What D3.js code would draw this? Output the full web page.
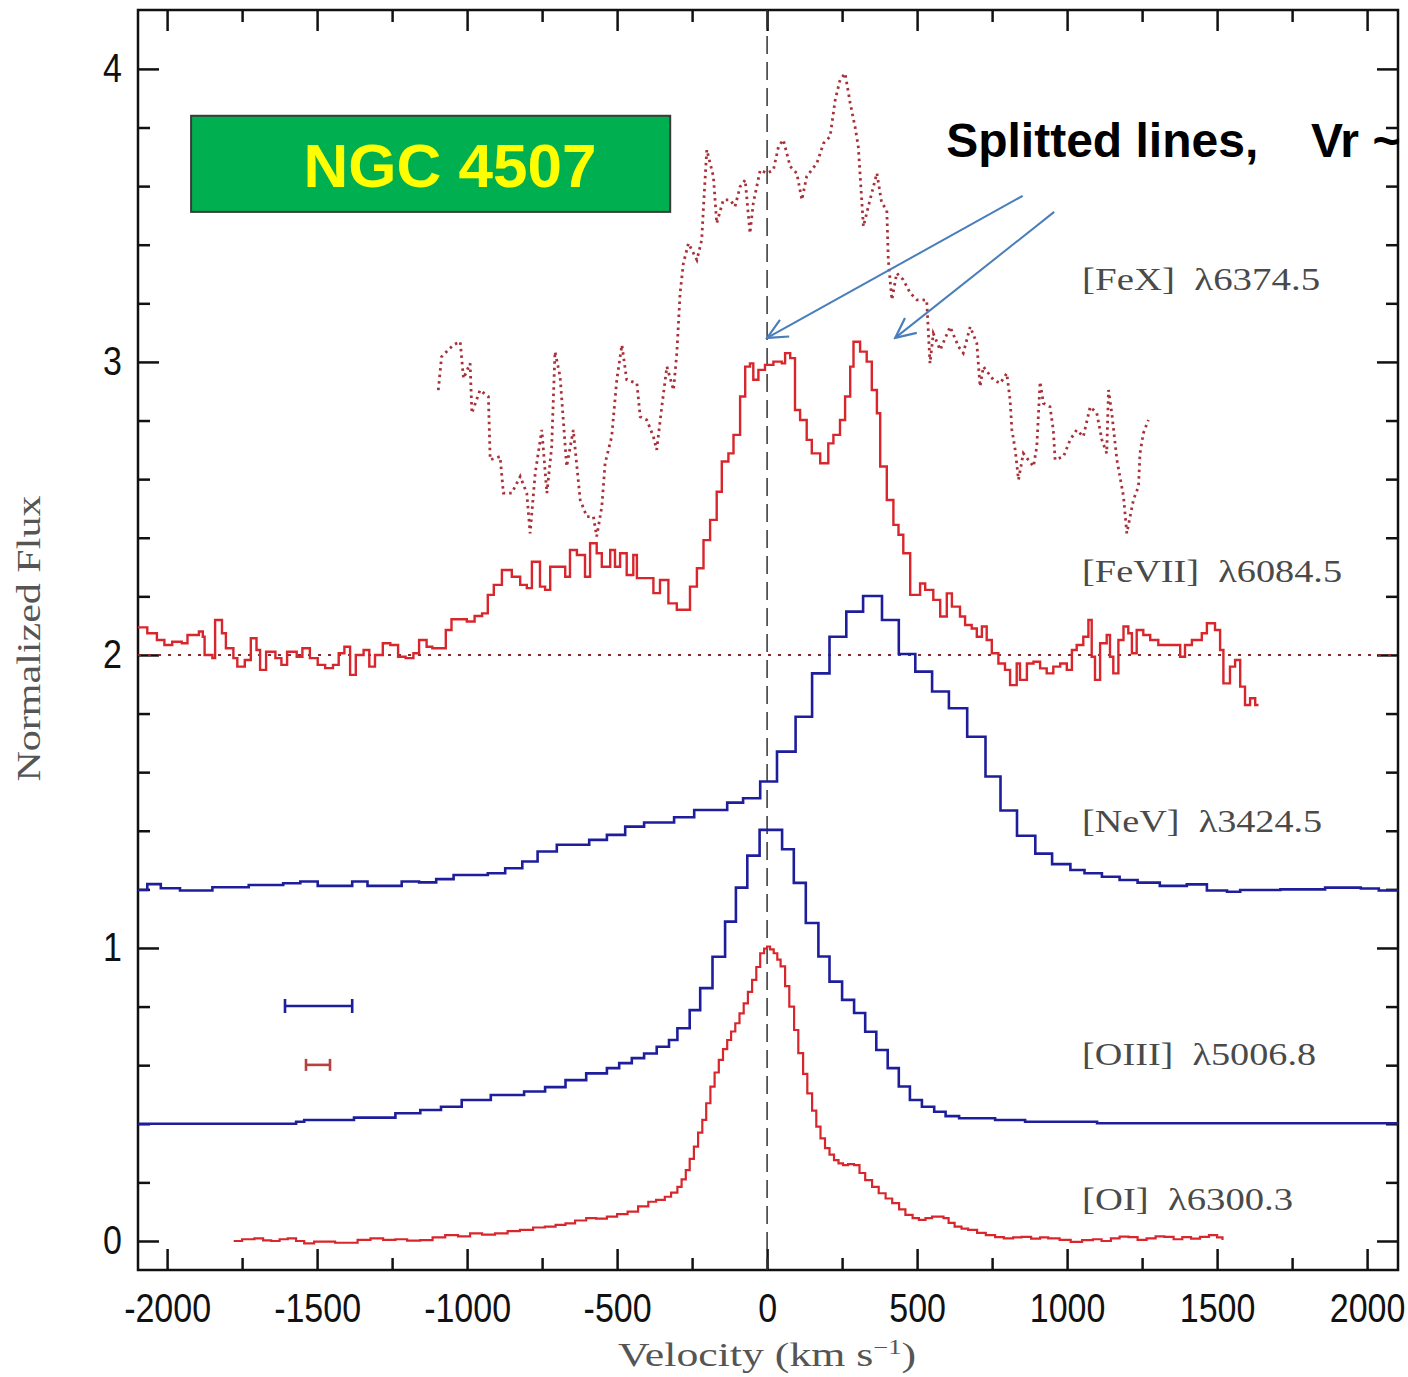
<!DOCTYPE html>
<html>
<head>
<meta charset="utf-8">
<script src="https://cdn.jsdelivr.net/npm/d3@7"></script>
<style>
    body { margin: 0; background: #fff; }
    svg { display: block; }
</style>
</head>
<body>
<div id="chart"></div>
<script>
//Tick values
var xMajorTicks = [-2000, -1500, -1000, -500, 0, 500, 1000, 1500, 2000];
var xMinorTicks = [-1750, -1250, -750, -250, 250, 750, 1250, 1750];
var yMajorTicks = [0, 1, 2, 3, 4];
var yMinorTicks = [0.2, 0.4, 0.6, 0.8, 1.2, 1.4, 1.6, 1.8, 2.2, 2.4, 2.6, 2.8, 3.2, 3.4, 3.6, 3.8];

//Line names
var lineNames = ["[FeX]  \u03bb6374.5", "[FeVII]  \u03bb6084.5", "[NeV]  \u03bb3424.5", "[OIII]  \u03bb5006.8", "[OI]  \u03bb6300.3"];

//[OI] 6300 - [velocity, flux], fine red histogram
var oiSpectrum = [
    [-1778, 0.0], [-1750, 0.006], [-1709, 0.009], [-1680, 0.002], [-1653, 0.0], [-1625, 0.006], [-1598, 0.009],
    [-1570, 0.0], [-1543, -0.008], [-1510, -0.002], [-1474, -0.002], [-1440, -0.006], [-1405, -0.006],
    [-1365, 0.004], [-1322, 0.009], [-1280, 0.004], [-1239, 0.006], [-1200, 0.001], [-1156, 0.003],
    [-1115, 0.012], [-1073, 0.02], [-1030, 0.016], [-990, 0.026], [-950, 0.022], [-907, 0.026], [-865, 0.034],
    [-824, 0.038], [-780, 0.046], [-741, 0.049], [-705, 0.055], [-672, 0.06], [-640, 0.07], [-603, 0.078],
    [-570, 0.076], [-534, 0.083], [-500, 0.092], [-465, 0.1], [-430, 0.118], [-396, 0.134], [-370, 0.14],
    [-341, 0.151], [-320, 0.165], [-299, 0.185], [-285, 0.21], [-271, 0.242], [-258, 0.28], [-244, 0.322],
    [-230, 0.37], [-216, 0.413], [-203, 0.47], [-189, 0.527], [-175, 0.575], [-161, 0.618], [-147, 0.655],
    [-133, 0.686], [-120, 0.715], [-106, 0.743], [-92, 0.777], [-78, 0.811], [-64, 0.85], [-50, 0.891],
    [-36, 0.935], [-23, 0.982], [-10, 0.998], [0, 1.005], [10, 0.995], [22, 0.982], [34, 0.96], [45, 0.937],
    [60, 0.87], [74, 0.8], [90, 0.72], [104, 0.641], [120, 0.57], [134, 0.504], [150, 0.445], [164, 0.39],
    [178, 0.35], [193, 0.317], [208, 0.295], [223, 0.276], [238, 0.265], [253, 0.259], [270, 0.262],
    [290, 0.259], [308, 0.232], [327, 0.208], [350, 0.185], [372, 0.163], [395, 0.145], [417, 0.129],
    [440, 0.108], [461, 0.089], [485, 0.078], [506, 0.072], [528, 0.078], [550, 0.083], [570, 0.083],
    [588, 0.078], [605, 0.062], [625, 0.049], [648, 0.042], [670, 0.038], [700, 0.028], [729, 0.02],
    [760, 0.013], [789, 0.009], [820, 0.012], [848, 0.014], [880, 0.008], [910, 0.012], [937, 0.009],
    [975, 0.004], [1012, -0.003], [1050, 0.003], [1086, 0.006], [1115, 0.0], [1146, 0.009], [1175, 0.015],
    [1205, 0.013], [1235, 0.004], [1265, 0.009], [1295, 0.016], [1324, 0.014], [1355, 0.006], [1384, 0.013],
    [1413, 0.008], [1443, 0.014], [1473, 0.02], [1500, 0.012], [1518, 0.003]
];

//[OIII] 5007 - bin start velocity, flux
var oiiiSpectrum = [
    [-2100, 0.400], [-1570, 0.407], [-1543, 0.413], [-1377, 0.421], [-1239, 0.436], [-1156, 0.447],
    [-1087, 0.458], [-1018, 0.481], [-921, 0.498], [-810, 0.510], [-740, 0.525], [-672, 0.549],
    [-603, 0.572], [-534, 0.590], [-493, 0.607], [-451, 0.624], [-410, 0.640], [-368, 0.663],
    [-327, 0.686], [-299, 0.726], [-258, 0.788], [-223, 0.863], [-182, 0.970], [-140, 1.090],
    [-104, 1.206], [-66, 1.315], [-25, 1.403], [50, 1.337], [89, 1.222], [129, 1.085], [171, 0.971],
    [208, 0.885], [250, 0.823], [290, 0.778], [327, 0.714], [364, 0.652], [402, 0.590], [439, 0.527],
    [476, 0.481], [516, 0.458], [557, 0.441], [595, 0.426], [640, 0.419], [760, 0.413], [860, 0.407],
    [1100, 0.402], [2110, 0.402]
];

//[NeV] 3426 - bin start velocity, flux
var nevSpectrum = [
    [-2100, 1.198], [-2066, 1.218], [-2021, 1.204], [-1957, 1.196], [-1849, 1.207], [-1728, 1.215],
    [-1613, 1.221], [-1556, 1.227], [-1498, 1.212], [-1383, 1.227], [-1332, 1.212], [-1218, 1.227],
    [-1160, 1.224], [-1103, 1.235], [-1045, 1.249], [-931, 1.255], [-873, 1.272], [-816, 1.295],
    [-765, 1.329], [-701, 1.352], [-593, 1.369], [-534, 1.386], [-473, 1.414], [-410, 1.428],
    [-310, 1.446], [-243, 1.471], [-133, 1.496], [-80, 1.511], [-23, 1.568], [33, 1.670], [95, 1.789],
    [150, 1.937], [208, 2.062], [264, 2.148], [320, 2.201], [383, 2.119], [439, 2.003], [494, 1.943],
    [550, 1.875], [606, 1.818], [667, 1.721], [728, 1.585], [778, 1.469], [833, 1.383], [894, 1.322],
    [950, 1.286], [1011, 1.266], [1058, 1.255], [1116, 1.243], [1175, 1.232], [1235, 1.223],
    [1309, 1.212], [1399, 1.217], [1466, 1.196], [1533, 1.192], [1577, 1.198], [1711, 1.200],
    [1860, 1.206], [1979, 1.203], [2039, 1.196], [2110, 1.196]
];

//[FeVII] 6087 - bin start velocity, flux
var feviiSpectrum = [
    [-2098, 2.094], [-2066, 2.074], [-2034, 2.051], [-2009, 2.034], [-1983, 2.045], [-1951, 2.040],
    [-1932, 2.068], [-1894, 2.080], [-1881, 2.062], [-1875, 2.000], [-1849, 1.989], [-1840, 2.119],
    [-1817, 2.074], [-1804, 2.023], [-1779, 1.989], [-1766, 1.960], [-1741, 1.983], [-1721, 2.057],
    [-1702, 2.017], [-1690, 1.949], [-1670, 2.011], [-1639, 1.989], [-1619, 1.966], [-1600, 2.011],
    [-1568, 1.994], [-1549, 2.023], [-1524, 1.989], [-1498, 1.966], [-1473, 1.955], [-1447, 1.966],
    [-1428, 2.006], [-1409, 2.028], [-1390, 1.932], [-1371, 2.000], [-1345, 2.017], [-1326, 1.960],
    [-1307, 2.000], [-1281, 2.040], [-1256, 2.034], [-1230, 1.994], [-1205, 1.989], [-1179, 2.006],
    [-1160, 2.051], [-1135, 2.028], [-1116, 2.023], [-1071, 2.085], [-1052, 2.122], [-1001, 2.114],
    [-975, 2.133], [-950, 2.142], [-931, 2.205], [-911, 2.239], [-884, 2.290], [-851, 2.267],
    [-823, 2.239], [-801, 2.228], [-784, 2.318], [-757, 2.233], [-740, 2.222], [-723, 2.301],
    [-673, 2.267], [-657, 2.358], [-634, 2.341], [-607, 2.267], [-590, 2.381], [-568, 2.347],
    [-551, 2.301], [-523, 2.358], [-507, 2.301], [-490, 2.347], [-468, 2.273], [-446, 2.341],
    [-434, 2.262], [-379, 2.211], [-357, 2.256], [-329, 2.176], [-301, 2.154], [-284, 2.154],
    [-257, 2.233], [-234, 2.296], [-212, 2.392], [-190, 2.461], [-168, 2.557], [-151, 2.660],
    [-129, 2.688], [-112, 2.751], [-90, 2.882], [-73, 2.984], [-57, 2.995], [-46, 2.939], [-29, 2.973],
    [-7, 2.990], [21, 3.001], [49, 2.995], [60, 3.030], [77, 3.013], [93, 2.836], [110, 2.802],
    [132, 2.734], [149, 2.688], [177, 2.654], [204, 2.722], [221, 2.751], [243, 2.802], [260, 2.882],
    [277, 2.984], [288, 3.069], [310, 3.035], [332, 3.001], [349, 2.904], [366, 2.825], [377, 2.643],
    [399, 2.529], [421, 2.444], [438, 2.410], [454, 2.347], [477, 2.205], [510, 2.244], [527, 2.222],
    [554, 2.188], [577, 2.131], [599, 2.210], [616, 2.165], [643, 2.131], [660, 2.102], [682, 2.090],
    [699, 2.062], [716, 2.097], [732, 2.051], [749, 2.006], [771, 1.971], [793, 1.949], [810, 1.897],
    [832, 1.971], [843, 1.915], [866, 1.971], [888, 1.977], [910, 1.954], [932, 1.937], [954, 1.960],
    [977, 1.971], [999, 1.949], [1016, 2.017], [1032, 2.034], [1054, 2.062], [1071, 2.119], [1082, 1.994],
    [1093, 1.915], [1110, 2.040], [1132, 2.068], [1143, 1.994], [1154, 1.937], [1171, 2.051], [1188, 2.097],
    [1204, 2.074], [1216, 2.006], [1232, 2.085], [1254, 2.068], [1277, 2.051], [1304, 2.034], [1377, 1.994],
    [1393, 2.034], [1416, 2.051], [1449, 2.074], [1466, 2.108], [1493, 2.085], [1510, 2.017], [1521, 1.903],
    [1543, 1.960], [1560, 1.983], [1577, 1.892], [1593, 1.829], [1610, 1.852], [1627, 1.829], [1638, 1.829]
];

//[FeX] 6374 - velocity, flux (dotted)
var fexSpectrum = [
    [-1096, 2.904], [-1085, 3.018], [-1046, 3.058], [-1023, 3.069], [-1012, 2.944], [-990, 2.995],
    [-984, 2.825], [-957, 2.904], [-929, 2.881], [-923, 2.666], [-890, 2.677], [-879, 2.552], [-851, 2.552],
    [-823, 2.609], [-801, 2.552], [-790, 2.415], [-773, 2.620], [-751, 2.768], [-734, 2.552], [-718, 2.711],
    [-707, 3.035], [-690, 2.950], [-668, 2.643], [-646, 2.768], [-634, 2.643], [-623, 2.529], [-601, 2.472],
    [-579, 2.472], [-568, 2.404], [-551, 2.506], [-540, 2.654], [-518, 2.745], [-501, 2.939], [-484, 3.058],
    [-468, 2.939], [-434, 2.927], [-423, 2.813], [-401, 2.802], [-379, 2.745], [-368, 2.700], [-351, 2.847],
    [-334, 2.984], [-312, 2.904], [-301, 3.029], [-290, 3.235], [-279, 3.337], [-262, 3.405], [-234, 3.348],
    [-218, 3.416], [-212, 3.530], [-201, 3.724], [-179, 3.633], [-168, 3.473], [-146, 3.553], [-123, 3.553],
    [-107, 3.530], [-90, 3.598], [-73, 3.621], [-57, 3.439], [-46, 3.542], [-23, 3.655], [-1, 3.644],
    [21, 3.655], [38, 3.735], [54, 3.758], [77, 3.667], [99, 3.644], [116, 3.553], [132, 3.633], [166, 3.678],
    [188, 3.746], [210, 3.769], [227, 3.894], [243, 3.962], [260, 3.985], [277, 3.883], [293, 3.803],
    [304, 3.735], [321, 3.462], [343, 3.553], [366, 3.644], [382, 3.542], [399, 3.519], [404, 3.348],
    [416, 3.212], [432, 3.303], [454, 3.280], [477, 3.235], [499, 3.212], [532, 3.211], [543, 2.995],
    [554, 3.097], [577, 3.041], [610, 3.120], [638, 3.052], [654, 3.030], [677, 3.120], [699, 3.064],
    [710, 2.916], [721, 2.984], [754, 2.939], [777, 2.927], [799, 2.961], [810, 2.870], [816, 2.768],
    [827, 2.700], [838, 2.598], [854, 2.688], [888, 2.643], [899, 2.711], [910, 2.932], [921, 2.859],
    [943, 2.847], [954, 2.768], [960, 2.666], [988, 2.677], [1010, 2.734], [1032, 2.768], [1054, 2.745],
    [1077, 2.847], [1099, 2.825], [1116, 2.734], [1132, 2.688], [1138, 2.904], [1149, 2.825], [1166, 2.666],
    [1188, 2.541], [1199, 2.415], [1221, 2.529], [1238, 2.575], [1243, 2.688], [1254, 2.756], [1271, 2.802]
];

//Instrumental resolution bars - [start velocity, end velocity, flux]
var resolutionBlue = [-1607, -1383, 0.802];
var resolutionRed = [-1537, -1457, 0.601];

//Continuum level of the [FeVII] line
var feviiContinuum = 2.0;

//Layout
var margin = {top: 10, right: 10, bottom: 107, left: 138},
    width = 1408 - margin.left - margin.right,
    height = 1377 - margin.top - margin.bottom;

var x = d3.scaleLinear().domain([-2097, 2103]).range([0, width]);
var y = d3.scaleLinear().domain([-0.099, 4.201]).range([height, 0]);

var red = "#d8262c",
    blue = "#1e1e9c",
    grey = "#4a4a4a",
    arrowBlue = "#4a7ebb";

var svg = d3.select("#chart").append("svg")
    .attr("width", width + margin.left + margin.right)
    .attr("height", height + margin.top + margin.bottom);

var g = svg.append("g")
    .attr("transform", "translate(" + margin.left + "," + margin.top + ")");

//Axes - ticks pointing inwards on all four sides
function styleAxis(sel) {
    sel.select(".domain").remove();
    sel.selectAll(".tick line").attr("stroke", "#111").attr("stroke-width", 2.5);
}

//The original uses a condensed face, squeeze the labels horizontally
var squeeze = 0.85;
var tickFont = "'Liberation Sans', Arial, sans-serif";

g.append("g")
    .attr("transform", "translate(0," + height + ")")
    .call(d3.axisBottom(x).tickValues(xMajorTicks).tickSizeInner(-21).tickPadding(24)
        .tickFormat(function(d) { return String(d); }))
    .call(styleAxis)
    .selectAll("text")
    .attr("fill", "#111")
    .attr("transform", "scale(" + squeeze + ",1)")
    .style("font-family", tickFont)
    .style("font-size", "40px");

g.append("g")
    .attr("transform", "translate(0," + height + ")")
    .call(d3.axisBottom(x).tickValues(xMinorTicks).tickSizeInner(-12).tickFormat(""))
    .call(styleAxis);

g.append("g")
    .call(d3.axisTop(x).tickValues(xMajorTicks).tickSizeInner(-21).tickFormat(""))
    .call(styleAxis);

g.append("g")
    .call(d3.axisTop(x).tickValues(xMinorTicks).tickSizeInner(-12).tickFormat(""))
    .call(styleAxis);

g.append("g")
    .call(d3.axisLeft(y).tickValues(yMajorTicks).tickSizeInner(-21).tickPadding(16)
        .tickFormat(function(d) { return String(d); }))
    .call(styleAxis)
    .selectAll("text")
    .attr("fill", "#111")
    .attr("x", -16 / squeeze)
    .attr("transform", "scale(" + squeeze + ",1)")
    .style("font-family", tickFont)
    .style("font-size", "40px");

g.append("g")
    .call(d3.axisLeft(y).tickValues(yMinorTicks).tickSizeInner(-12).tickFormat(""))
    .call(styleAxis);

g.append("g")
    .attr("transform", "translate(" + width + ",0)")
    .call(d3.axisRight(y).tickValues(yMajorTicks).tickSizeInner(-21).tickFormat(""))
    .call(styleAxis);

g.append("g")
    .attr("transform", "translate(" + width + ",0)")
    .call(d3.axisRight(y).tickValues(yMinorTicks).tickSizeInner(-12).tickFormat(""))
    .call(styleAxis);

//Frame
g.append("rect")
    .attr("width", width)
    .attr("height", height)
    .attr("fill", "none")
    .attr("stroke", "#111")
    .attr("stroke-width", 2.5);

//Zero velocity reference
g.append("line")
    .attr("x1", x(0)).attr("x2", x(0))
    .attr("y1", 0).attr("y2", height)
    .attr("stroke", "#333")
    .attr("stroke-width", 1.5)
    .attr("stroke-dasharray", "18,8");

//Continuum of [FeVII]
g.append("line")
    .attr("x1", 0).attr("x2", width)
    .attr("y1", y(feviiContinuum)).attr("y2", y(feviiContinuum))
    .attr("stroke", "#8a2a2a")
    .attr("stroke-width", 2)
    .attr("stroke-dasharray", "3,7");

//Spectra
var stepLine = d3.line()
    .x(function(d) { return x(d[0]); })
    .y(function(d) { return y(d[1]); })
    .curve(d3.curveStepAfter);

var plainLine = d3.line()
    .x(function(d) { return x(d[0]); })
    .y(function(d) { return y(d[1]); });

g.append("clipPath").attr("id", "plot-clip")
    .append("rect").attr("width", width).attr("height", height);

var spectra = g.append("g").attr("clip-path", "url(#plot-clip)");

spectra.append("path")
    .datum(fexSpectrum)
    .attr("d", plainLine)
    .attr("fill", "none")
    .attr("stroke", "#a8323a")
    .attr("stroke-width", 2.8)
    .attr("stroke-dasharray", "2.5,4");

spectra.append("path")
    .datum(feviiSpectrum)
    .attr("d", stepLine)
    .attr("fill", "none")
    .attr("stroke", red)
    .attr("stroke-width", 2.4);

spectra.append("path")
    .datum(nevSpectrum)
    .attr("d", stepLine)
    .attr("fill", "none")
    .attr("stroke", blue)
    .attr("stroke-width", 2.6);

spectra.append("path")
    .datum(oiiiSpectrum)
    .attr("d", stepLine)
    .attr("fill", "none")
    .attr("stroke", blue)
    .attr("stroke-width", 2.6);

spectra.append("path")
    .datum(oiSpectrum)
    .attr("d", stepLine)
    .attr("fill", "none")
    .attr("stroke", red)
    .attr("stroke-width", 2.2);

//Resolution bars
function drawResolution(bar, colour, cap) {
    var rg = g.append("g")
        .attr("stroke", colour)
        .attr("stroke-width", 2.6);
    rg.append("line")
        .attr("x1", x(bar[0])).attr("x2", x(bar[1]))
        .attr("y1", y(bar[2])).attr("y2", y(bar[2]));
    [bar[0], bar[1]].forEach(function(v) {
        rg.append("line")
            .attr("x1", x(v)).attr("x2", x(v))
            .attr("y1", y(bar[2]) - cap).attr("y2", y(bar[2]) + cap);
    });
}
drawResolution(resolutionBlue, blue, 7);
drawResolution(resolutionRed, "#b8403f", 6);

//Line labels - anchor velocity / flux of the left baseline and printed width
var labelAnchors = [
    {v: 1050, f: 3.246, w: 238},
    {v: 1050, f: 2.249, w: 260},
    {v: 1050, f: 1.396, w: 240},
    {v: 1050, f: 0.601, w: 234},
    {v: 1050, f: 0.106, w: 211}
];

g.selectAll(".line-label")
    .data(lineNames)
    .enter().append("text")
    .attr("class", "line-label")
    .attr("x", function(d, i) { return x(labelAnchors[i].v); })
    .attr("y", function(d, i) { return y(labelAnchors[i].f); })
    .attr("textLength", function(d, i) { return labelAnchors[i].w; })
    .attr("lengthAdjust", "spacingAndGlyphs")
    .style("font-family", "'Liberation Serif', 'DejaVu Serif', serif")
    .style("font-size", "31px")
    .style("fill", grey)
    .style("white-space", "pre")
    .text(function(d) { return d; });

//Axis titles
svg.append("text")
    .attr("transform", "translate(40," + (margin.top + y(2.056)) + ") rotate(-90)")
    .attr("text-anchor", "middle")
    .attr("textLength", 286)
    .attr("lengthAdjust", "spacingAndGlyphs")
    .style("font-family", "'Liberation Serif', 'DejaVu Serif', serif")
    .style("font-size", "33px")
    .style("fill", "#555")
    .text("Normalized Flux");

var xTitle = svg.append("text")
    .attr("x", margin.left + x(0))
    .attr("y", 1366)
    .attr("text-anchor", "middle")
    .attr("textLength", 298)
    .attr("lengthAdjust", "spacingAndGlyphs")
    .style("font-family", "'Liberation Serif', 'DejaVu Serif', serif")
    .style("font-size", "33px")
    .style("fill", "#555");
xTitle.append("tspan").text("Velocity (km s");
xTitle.append("tspan").attr("dy", -12).style("font-size", "20px").text("\u22121");
xTitle.append("tspan").attr("dy", 12).text(")");

//Object name badge
var badge = {v0: -1920, v1: -323, f0: 3.512, f1: 3.840};
g.append("rect")
    .attr("x", x(badge.v0))
    .attr("y", y(badge.f1))
    .attr("width", x(badge.v1) - x(badge.v0))
    .attr("height", y(badge.f0) - y(badge.f1))
    .attr("fill", "#00b050")
    .attr("stroke", "#3a3a3a")
    .attr("stroke-width", 2);

g.append("text")
    .attr("x", x(-1057))
    .attr("y", y(3.597))
    .attr("text-anchor", "middle")
    .style("font-family", "'Liberation Sans', Arial, sans-serif")
    .style("font-weight", "bold")
    .style("font-size", "62px")
    .style("fill", "#ffff00")
    .text("NGC 4507");

//Annotation
g.append("text")
    .attr("x", x(597))
    .attr("y", y(3.70))
    .style("font-family", "'Liberation Sans', Arial, sans-serif")
    .style("font-weight", "bold")
    .style("font-size", "48px")
    .style("fill", "#000")
    .text("Splitted lines,");

svg.append("text")
    .attr("x", margin.left + x(1813))
    .attr("y", margin.top + y(3.70))
    .style("font-family", "'Liberation Sans', Arial, sans-serif")
    .style("font-weight", "bold")
    .style("font-size", "48px")
    .style("fill", "#000")
    .text("Vr ~");

//Arrows pointing to the two [FeVII] peaks
svg.append("defs").append("marker")
    .attr("id", "arrow-head")
    .attr("viewBox", "-24 -12 26 24")
    .attr("refX", 0)
    .attr("refY", 0)
    .attr("markerUnits", "userSpaceOnUse")
    .attr("markerWidth", 26)
    .attr("markerHeight", 24)
    .attr("orient", "auto")
    .append("path")
    .attr("d", "M-20,-9.5 L0,0 L-20,9.5")
    .attr("fill", "none")
    .attr("stroke", arrowBlue)
    .attr("stroke-width", 2.2);

var arrows = [
    {from: [852, 3.567], to: [0, 3.082]},
    {from: [957, 3.512], to: [427, 3.082]}
];

g.selectAll(".arrow")
    .data(arrows)
    .enter().append("line")
    .attr("class", "arrow")
    .attr("x1", function(d) { return x(d.from[0]); })
    .attr("y1", function(d) { return y(d.from[1]); })
    .attr("x2", function(d) { return x(d.to[0]); })
    .attr("y2", function(d) { return y(d.to[1]); })
    .attr("stroke", arrowBlue)
    .attr("stroke-width", 2)
    .attr("marker-end", "url(#arrow-head)");
</script>
</body>
</html>
